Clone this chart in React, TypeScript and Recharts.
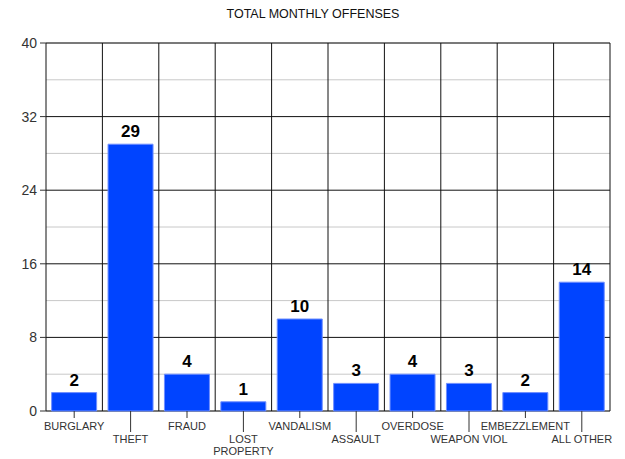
import * as React from "react";
import {
  BarChart,
  Bar,
  XAxis,
  YAxis,
  CartesianGrid,
  ReferenceLine,
  LabelList,
} from "recharts";

const categories = [
  "BURGLARY",
  "THEFT",
  "FRAUD",
  "LOST\nPROPERTY",
  "VANDALISM",
  "ASSAULT",
  "OVERDOSE",
  "WEAPON VIOL",
  "EMBEZZLEMENT",
  "ALL OTHER",
];
const offenses = [2, 29, 4, 1, 10, 3, 4, 3, 2, 14];
const majorTicks = [0, 8, 16, 24, 32, 40];
const minorTicks = [4, 12, 20, 28, 36];

const data = categories.map((name, i) => ({ name, value: offenses[i] }));

const font = "Arial, 'Liberation Sans', sans-serif";

function CategoryTick(props: any) {
  const { x, y, payload, index } = props;
  const low = index % 2 === 1;
  const lines = String(payload.value).split("\n");
  return (
    <g>
      <line x1={x} x2={x} y1={y} y2={y + (low ? 21 : 7)} stroke="#333" />
      {lines.map((t: string, i: number) => (
        <text
          key={i}
          x={x}
          y={y + (low ? 32 : 19) + i * 12}
          textAnchor="middle"
          fontSize={11}
          fontFamily={font}
          fill="#333"
        >
          {t}
        </text>
      ))}
    </g>
  );
}

export default function App() {
  return (
    <div
      style={{
        position: "absolute",
        left: 0,
        top: 0,
        width: 625,
        height: 459,
        background: "#fff",
      }}
    >
      <div
        style={{
          position: "absolute",
          top: 7,
          width: 626,
          textAlign: "center",
          fontFamily: font,
          fontSize: 12.5,
          color: "#111",
        }}
      >
        TOTAL MONTHLY OFFENSES
      </div>
      <BarChart
        width={625}
        height={459}
        data={data}
        margin={{ top: 43, right: 15, left: 0, bottom: 0 }}
        barCategoryGap="10%"
      >
        <XAxis
          dataKey="name"
          axisLine={false}
          tickLine={false}
          tickSize={0}
          tickMargin={0}
          interval={0}
          tick={<CategoryTick />}
          height={48}
        />
        <YAxis
          domain={[0, 40]}
          ticks={majorTicks}
          width={46}
          axisLine={false}
          tickLine={{ stroke: "#333" }}
          tickSize={6}
          tickMargin={3}
          tick={{ fill: "#333", fontSize: 14, fontFamily: font }}
        />
        <YAxis
          yAxisId="minor"
          type="number"
          domain={[0, 40]}
          ticks={minorTicks}
          allowDataOverflow
          hide
        />
        <CartesianGrid
          yAxisId="minor"
          vertical={false}
          stroke="#c8c8c8"
          strokeDasharray=""
        />
        <CartesianGrid vertical={false} stroke="#111" strokeDasharray="" />
        {categories.map((c) => (
          <ReferenceLine key={c} x={c} position="start" stroke="#111" strokeWidth={1} />
        ))}
        <ReferenceLine
          x={categories[categories.length - 1]}
          position="end"
          stroke="#111"
          strokeWidth={1}
        />
        <Bar
          dataKey="value"
          fill="#0044ff"
          stroke="#6f8fff"
          strokeWidth={1}
          isAnimationActive={false}
        >
          <LabelList
            dataKey="value"
            position="top"
            offset={7}
            style={{ fill: "#000", fontSize: 17, fontWeight: "bold", fontFamily: font }}
          />
        </Bar>
      </BarChart>
    </div>
  );
}
